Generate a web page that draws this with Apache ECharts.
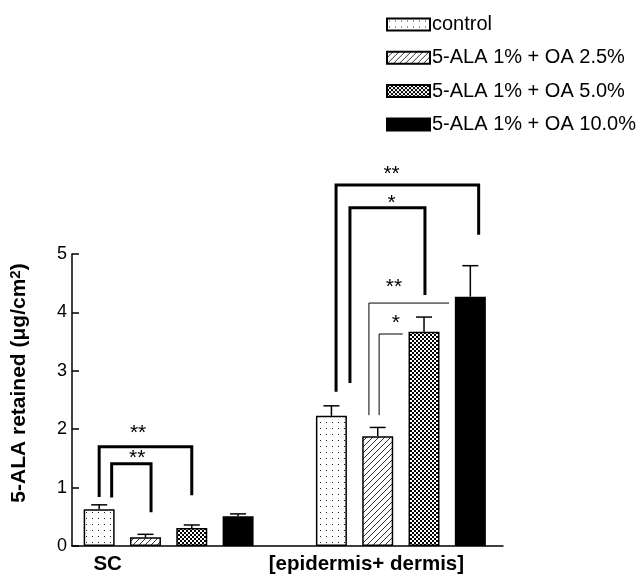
<!DOCTYPE html>
<html><head><meta charset="utf-8">
<script src="https://cdn.jsdelivr.net/npm/echarts@6/dist/echarts.min.js"></script>
<style>html,body{margin:0;padding:0;background:#fff}#c{width:644px;height:577px}</style>
</head><body><div id="c"></div>
<script>
// ---- data ----
const categories = ['SC', '[epidermis+ dermis]'];
const seriesNames = ['control', '5-ALA 1% + OA 2.5%', '5-ALA 1% + OA 5.0%', '5-ALA 1% + OA 10.0%'];
const controlVals = [0.63, 2.23];
const oa25Vals = [0.15, 1.88];
const oa50Vals = [0.31, 3.67];
const oa100Vals = [0.51, 4.27];
const controlErr = [0.075, 0.17];
const oa25Err = [0.05, 0.15];
const oa50Err = [0.05, 0.25];
const oa100Err = [0.04, 0.53];
const yTicks = [0, 1, 2, 3, 4, 5];
// significance brackets (category, bar-position span, heights in data units)
const bracketCat = [0, 0, 1, 1, 1, 1];
const bracketLeft = [0, 0.27, 0.1, 0.4, 0.81, 1.03];
const bracketRight = [2, 1.12, 3.18, 2.02, 2.54, 1.54];
const bracketTop = [1.70, 1.41, 6.18, 5.79, 4.16, 3.63];
const bracketLeftEnd = [0.84, 0.83, 2.64, 2.79, 2.24, 2.24];
const bracketRightEnd = [0.87, 0.58, 5.33, 4.30, 4.16, 3.63];
const bracketText = ['**', '**', '**', '*', '**', '*'];
const bracketLabelX = [0.84, 0.82, 1.30, 1.30, 1.35, 1.39];
const bracketLabelY = [1.93, 1.51, 6.37, 5.87, 4.44, 3.82];
const bracketHeavy = [1, 1, 1, 1, 0, 0];

// ---- layout / style ----
const FONT = '"Liberation Sans", Arial, sans-serif';
const BAR_W = 31;
const PITCH = 46.3;
function pattern(w, h, draw) {
  const cv = document.createElement('canvas');
  cv.width = w; cv.height = h;
  const ctx = cv.getContext('2d');
  ctx.fillStyle = '#fff'; ctx.fillRect(0, 0, w, h);
  draw(ctx);
  return { image: cv, repeat: 'repeat' };
}
const dotFill = pattern(6, 6, c => { c.fillStyle = '#222'; c.fillRect(2, 2, 1, 1); });
const hatchFill = pattern(6, 6, c => { c.fillStyle = '#333'; for (let i = 0; i < 6; i++) c.fillRect(i, 5 - i, 1, 1); });
const checkFill = pattern(4, 4, c => { c.fillStyle = '#000'; c.fillRect(0, 0, 2, 2); c.fillRect(2, 2, 2, 2); });
const fills = [dotFill, hatchFill, checkFill, '#000'];
const values = [controlVals, oa25Vals, oa50Vals, oa100Vals];
const errs = [controlErr, oa25Err, oa50Err, oa100Err];

const errData = [];
values.forEach((arr, s) => arr.forEach((v, c) => errData.push([c, v + errs[s][c], s, v])));

function errItem(params, api) {
  const c = api.value(0), s = api.value(2);
  const top = api.coord([c, api.value(3)]);
  const cap = api.coord([c, api.value(1)]);
  const x = top[0] + (s - 1.5) * PITCH;
  return {
    type: 'group', children: [
      { type: 'line', shape: { x1: x, y1: top[1], x2: x, y2: cap[1] }, style: { stroke: '#000', lineWidth: 1.5 } },
      { type: 'line', shape: { x1: x - 8, y1: cap[1], x2: x + 8, y2: cap[1] }, style: { stroke: '#000', lineWidth: 1.5 } }
    ]
  };
}
function bracketItem(params, api) {
  const i = params.dataIndex;
  const c = bracketCat[i];
  const base = api.coord([c, 0])[0];
  const xp = b => base + (b - 1.5) * PITCH;
  const yp = v => api.coord([c, v])[1];
  const xl = xp(bracketLeft[i]), xr = xp(bracketRight[i]), yt = yp(bracketTop[i]);
  return {
    type: 'group', children: [
      { type: 'polyline', shape: { points: [[xl, yp(bracketLeftEnd[i])], [xl, yt], [xr, yt], [xr, yp(bracketRightEnd[i])]] },
        style: { stroke: '#000', fill: null, lineWidth: bracketHeavy[i] ? 3 : 1 } },
      { type: 'text', x: xp(bracketLabelX[i]), y: yp(bracketLabelY[i]),
        style: { text: bracketText[i], align: 'center', verticalAlign: 'middle', font: '21px ' + FONT, fill: '#000' } }
    ]
  };
}

const chart = echarts.init(document.getElementById('c'), null, { renderer: 'canvas' });
chart.setOption({
  animation: false,
  backgroundColor: '#fff',
  textStyle: { fontFamily: FONT },
  legend: {
    data: seriesNames, orient: 'vertical', left: 381, top: 9.5,
    itemWidth: 43, itemHeight: 12, itemGap: 13.3, icon: 'rect',
    textStyle: { fontSize: 20, color: '#000', fontFamily: FONT, padding: [0, 0, 0, -3] }
  },
  grid: [
    { left: 68, right: 141, top: 254, bottom: 31 },
    { left: 52.5, right: 127, top: 254, bottom: 31 }
  ],
  xAxis: [
    { type: 'category', gridIndex: 0, data: categories, axisLine: { lineStyle: { color: '#000', width: 1.5 } },
      axisTick: { show: false }, axisLabel: { show: false } },
    { type: 'category', gridIndex: 1, data: [
        { value: categories[0], textStyle: { padding: [0, 122, 0, 0] } },
        { value: categories[1], textStyle: { padding: [0, 69, 0, 0] } }],
      axisLine: { show: false }, axisTick: { show: false },
      axisLabel: { interval: 0, hideOverlap: false, margin: 8, fontSize: 20.5, fontWeight: 'bold', color: '#000', fontFamily: FONT } }
  ],
  yAxis: [
    { type: 'value', gridIndex: 0, min: yTicks[0], max: yTicks[yTicks.length - 1], interval: 1,
      name: '{a|5-ALA retained (μg/cm}{s|2}{a|)}', nameLocation: 'middle', nameGap: 41, nameRotate: 90,
      nameTextStyle: { fontSize: 21, fontWeight: 'bold', color: '#000', fontFamily: FONT, padding: [0, 0, 0, 34],
        rich: {
          a: { fontSize: 21, fontWeight: 'bold', color: '#000', fontFamily: FONT },
          s: { fontSize: 15, fontWeight: 'bold', color: '#000', fontFamily: FONT, verticalAlign: 'top', padding: [0, 0, 8, 0] }
        } },
      axisLine: { show: true, lineStyle: { color: '#000', width: 1.5 } },
      axisTick: { show: true, inside: true, length: 7, lineStyle: { color: '#000', width: 1.5 } },
      axisLabel: { fontSize: 18, color: '#000', margin: 5, fontFamily: FONT },
      splitLine: { show: false } },
    { type: 'value', gridIndex: 1, min: yTicks[0], max: yTicks[yTicks.length - 1], interval: 1, show: false }
  ],
  series: seriesNames.map((n, s) => ({
    name: n, type: 'bar', xAxisIndex: 1, yAxisIndex: 1, data: values[s],
    barWidth: BAR_W, barGap: ((PITCH - BAR_W) / BAR_W * 100).toFixed(1) + '%',
    itemStyle: { color: fills[s], borderColor: '#000', borderWidth: 1.5 }
  })).concat([
    { type: 'custom', xAxisIndex: 1, yAxisIndex: 1, data: errData, renderItem: errItem, z: 5, silent: true },
    { type: 'custom', xAxisIndex: 1, yAxisIndex: 1, clip: false,
      data: bracketCat.map((c, i) => [c, bracketTop[i]]), renderItem: bracketItem, z: 6, silent: true }
  ])
});
</script></body></html>
